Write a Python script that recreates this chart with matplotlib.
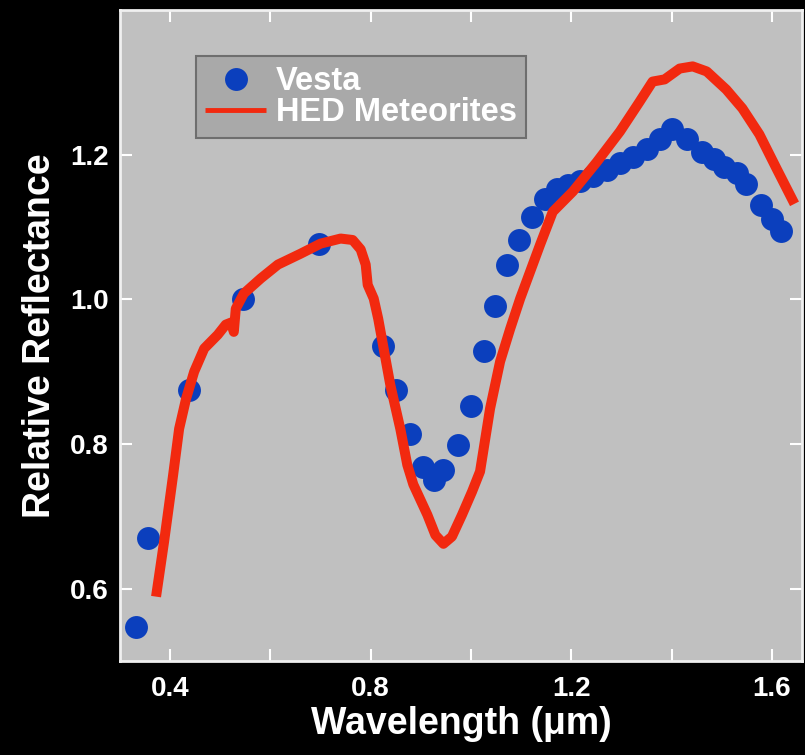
import matplotlib
matplotlib.use("Agg")
import matplotlib.pyplot as plt
from matplotlib.ticker import MultipleLocator

# Vesta spectrum (points)
vesta_wl = [0.332, 0.356, 0.438, 0.545, 0.696, 0.825, 0.851, 0.879, 0.905, 0.927,
            0.945, 0.975, 1.000, 1.026, 1.048, 1.072, 1.096, 1.122, 1.147, 1.171,
            1.193, 1.217, 1.243, 1.271, 1.297, 1.322, 1.350, 1.376, 1.400, 1.430,
            1.460, 1.485, 1.505, 1.531, 1.549, 1.579, 1.601, 1.619]
vesta_refl = [0.547, 0.670, 0.874, 1.001, 1.077, 0.936, 0.874, 0.814, 0.768, 0.750,
              0.764, 0.798, 0.853, 0.929, 0.991, 1.048, 1.082, 1.114, 1.138, 1.152,
              1.158, 1.163, 1.170, 1.179, 1.188, 1.197, 1.208, 1.222, 1.235, 1.221,
              1.204, 1.194, 1.183, 1.174, 1.159, 1.131, 1.111, 1.095]

# HED meteorites spectrum (line)
hed_wl = [0.372, 0.388, 0.406, 0.418, 0.432, 0.448, 0.468, 0.495, 0.511, 0.522,
          0.527, 0.531, 0.547, 0.581, 0.615, 0.660, 0.700, 0.740, 0.764, 0.780,
          0.790, 0.794, 0.806, 0.815, 0.839, 0.859, 0.873, 0.885, 0.913, 0.929,
          0.945, 0.962, 0.982, 1.002, 1.018, 1.038, 1.058, 1.078, 1.098, 1.138,
          1.163, 1.203, 1.251, 1.297, 1.336, 1.362, 1.386, 1.416, 1.442, 1.470,
          1.509, 1.541, 1.575, 1.609, 1.645]
hed_refl = [0.589, 0.665, 0.757, 0.821, 0.863, 0.900, 0.932, 0.951, 0.965, 0.968,
            0.955, 0.987, 1.008, 1.029, 1.048, 1.063, 1.077, 1.084, 1.082, 1.069,
            1.048, 1.020, 1.001, 0.973, 0.882, 0.821, 0.771, 0.744, 0.702, 0.674,
            0.662, 0.672, 0.702, 0.734, 0.762, 0.849, 0.914, 0.959, 1.001, 1.076,
            1.121, 1.149, 1.190, 1.232, 1.273, 1.301, 1.304, 1.319, 1.322, 1.315,
            1.290, 1.264, 1.228, 1.181, 1.132]

plt.rcParams['font.family'] = ['Liberation Sans', 'DejaVu Sans']
plt.rcParams['font.weight'] = 'bold'

fig = plt.figure(figsize=(8.05, 7.55), dpi=100, facecolor='black')
ax = fig.add_axes([0.149, 0.1245, 0.8473, 0.8623])
ax.set_facecolor('#c0c0c0')

ax.plot(vesta_wl, vesta_refl, 'o', color='#0b3fbd', markersize=16.5,
        markeredgewidth=0, label='Vesta', zorder=2)
ax.plot(hed_wl, hed_refl, '-', color='#f2290f', linewidth=7.2,
        solid_capstyle='butt', solid_joinstyle='round',
        label='HED Meteorites', zorder=3)

ax.set_xlim(0.3, 1.66)
ax.set_ylim(0.5, 1.4)
ax.xaxis.set_minor_locator(MultipleLocator(0.2))
ax.set_xticks([0.4, 0.8, 1.2, 1.6])
ax.set_xticklabels(['0.4', '0.8', '1.2', '1.6'])
ax.set_yticks([0.6, 0.8, 1.0, 1.2])
ax.set_yticklabels(['0.6', '0.8', '1.0', '1.2'])

ax.tick_params(which='both', direction='in', top=True, right=True,
               length=8.5, width=1.5, color='white')
ax.tick_params(axis='x', which='major', pad=11, labelsize=20, labelcolor='white')
ax.tick_params(axis='y', which='major', pad=8, labelsize=20, labelcolor='white')
for sp in ax.spines.values():
    sp.set_color('#f0f0f0')
    sp.set_linewidth(2)

ax.set_xlabel('Wavelength (\u03bcm)', fontsize=27, color='white',
              fontweight='bold', labelpad=3)
ax.set_ylabel('Relative Reflectance', fontsize=27, color='white',
              fontweight='bold', labelpad=9)

leg = ax.legend(loc='upper left', bbox_to_anchor=(0.111, 0.929), fontsize=23.5,
                frameon=True, fancybox=False, facecolor='#a9a9a9',
                edgecolor='#6e6e6e', framealpha=1, borderpad=0.3,
                labelspacing=0.0, handlelength=1.85, handletextpad=0.3,
                borderaxespad=0)
leg.get_frame().set_linewidth(1.5)
leg.get_lines()[1].set_linewidth(3.5)
for t in leg.get_texts():
    t.set_color('white')

fig.savefig('out.png', dpi=100, facecolor='black')
